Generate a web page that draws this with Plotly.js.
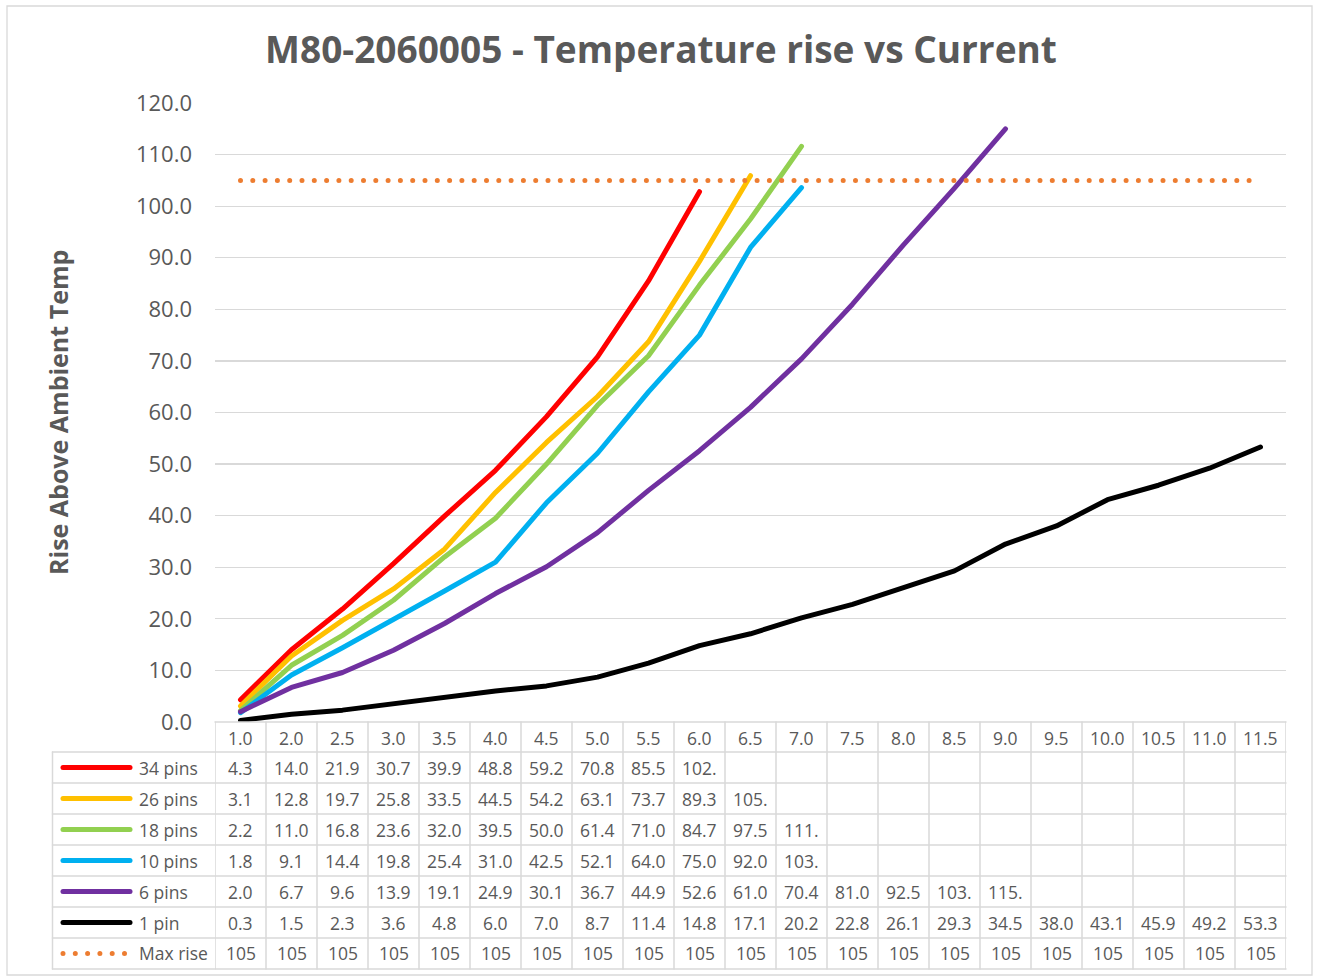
<!DOCTYPE html>
<html><head><meta charset="utf-8">
<script src="https://cdn.plot.ly/plotly-3.0.1.min.js"></script>
<style>
html,body{margin:0;padding:0;background:#fff;}
#chart{width:1318px;height:978px;}
.scatterlayer .js-line{stroke-linecap:round !important;stroke-linejoin:round !important;}
</style></head><body><div id="chart"></div>
<script>
const categories = ['1.0','2.0','2.5','3.0','3.5','4.0','4.5','5.0','5.5','6.0','6.5','7.0','7.5','8.0','8.5','9.0','9.5','10.0','10.5','11.0','11.5'];
const pins34 = [4.3,14.0,21.9,30.7,39.9,48.8,59.2,70.8,85.5,102.8];
const pins26 = [3.1,12.8,19.7,25.8,33.5,44.5,54.2,63.1,73.7,89.3,105.9];
const pins18 = [2.2,11.0,16.8,23.6,32.0,39.5,50.0,61.4,71.0,84.7,97.5,111.6];
const pins10 = [1.8,9.1,14.4,19.8,25.4,31.0,42.5,52.1,64.0,75.0,92.0,103.6];
const pins6 = [2.0,6.7,9.6,13.9,19.1,24.9,30.1,36.7,44.9,52.6,61.0,70.4,81.0,92.5,103.5,115.0];
const pin1 = [0.3,1.5,2.3,3.6,4.8,6.0,7.0,8.7,11.4,14.8,17.1,20.2,22.8,26.1,29.3,34.5,38.0,43.1,45.9,49.2,53.3];
const maxRise = [105,105,105,105,105,105,105,105,105,105,105,105,105,105,105,105,105,105,105,105,105];
const seriesNames = ['34 pins','26 pins','18 pins','10 pins','6 pins','1 pin','Max rise'];
const seriesColors = ['#FF0000','#FFC000','#92D050','#00B0F0','#7030A0','#000000','#ED7D31'];
const yTicks = [0,10,20,30,40,50,60,70,80,90,100,110,120];

const allSeries = [pins34,pins26,pins18,pins10,pins6,pin1,maxRise];
const FONT = 'Open Sans, DejaVu Sans, sans-serif';
const TXT = '#595959';
const GRID = '#d9d9d9';

// layout geometry in pixels
const L = 215, R = 1286, T = 103, B = 722;
const W = 1318, H = 978;
const py = p => (B - p) / (B - T);   // pixel y -> paper y
const px = p => (p - L) / (R - L);   // pixel x -> paper x

const xIdx = categories.map((c,i)=>i);
const traces = allSeries.map((s,k)=>({
  type:'scatter', mode:'lines', name:seriesNames[k],
  x: xIdx.slice(0,s.length), y:s,
  line:{color:seriesColors[k], width:5, dash: k===6?'0px,12.3px':'solid'},
  hoverinfo:'x+y', showlegend:false
}));

const shapes = [];
const annotations = [];
// outer chart border
shapes.push({type:'rect', xref:'paper', yref:'paper', x0:px(7), x1:px(1312), y0:py(6), y1:py(975), line:{color:GRID,width:1.3}, layer:'below'});

const headerTop = 722, rowH = 31, firstRow = 752;
const tableBottom = firstRow + rowH*7;
for (let i=0;i<=categories.length;i++){
  shapes.push({type:'line', xref:'x', yref:'paper', x0:i-0.5, x1:i-0.5, y0:py(headerTop), y1:py(tableBottom), line:{color:GRID,width:1.5}});
}
shapes.push({type:'line', xref:'paper', yref:'paper', x0:px(52.5), x1:px(52.5), y0:py(firstRow), y1:py(tableBottom), line:{color:GRID,width:1.5}});
shapes.push({type:'line', xref:'paper', yref:'paper', x0:0, x1:1, y0:py(headerTop), y1:py(headerTop), line:{color:GRID,width:1.5}});
for (let r=0;r<=7;r++){
  const yy = firstRow + r*rowH;
  shapes.push({type:'line', xref:'paper', yref:'paper', x0:px(52.5), x1:1, y0:py(yy), y1:py(yy), line:{color:GRID,width:1.5}});
}
const tfont = {family:FONT, size:17.5, color:TXT};
categories.forEach((c,i)=>{
  annotations.push({xref:'x', yref:'paper', x:i, y:py(headerTop+rowH/2+0.5), text:c, showarrow:false, font:tfont, xanchor:'center', yanchor:'middle'});
});
allSeries.forEach((s,k)=>{
  const cy = firstRow + rowH*k + rowH/2;
  s.forEach((v,i)=>{
    let t;
    if (k===6) t = String(Math.round(v));
    else { t = v.toFixed(1); if (t.length>4) t = t.slice(0,4); }
    annotations.push({xref:'x', yref:'paper', x:i, y:py(cy), text:t, showarrow:false, font:tfont, xanchor:'center', yanchor:'middle'});
  });
  annotations.push({xref:'paper', yref:'paper', x:px(137), y:py(cy), text:seriesNames[k], showarrow:false, font:tfont, xanchor:'left', yanchor:'middle'});
  shapes.push({type:'line', xref:'paper', yref:'paper', x0:px(63), x1:px(k===6?125:130), y0:py(cy), y1:py(cy),
    line:{color:seriesColors[k], width:5, dash: k===6?'0px,12.3px':'solid'}});
});

annotations.push({xref:'paper', yref:'paper', x:px(58), y:py(413), text:'<b>Rise Above Ambient Temp</b>', textangle:-90, showarrow:false,
  font:{family:FONT, size:25, color:TXT}, xanchor:'center', yanchor:'middle'});

const layout = {
  width:W, height:H,
  margin:{l:L, r:W-R, t:T, b:H-B, pad:0},
  paper_bgcolor:'#fff', plot_bgcolor:'#fff',
  title:{text:'<b>M80-2060005 - Temperature rise vs Current</b>', xref:'container', x:661/W, xanchor:'center', yref:'container', y:1-50/H, yanchor:'middle',
    font:{family:FONT, size:37, color:TXT}},
  xaxis:{range:[-0.5, categories.length-0.5], showticklabels:false, showgrid:false, zeroline:false, showline:false, ticks:'', fixedrange:true},
  yaxis:{range:[0,120], tickvals:yTicks, ticktext:yTicks.map(v=>v.toFixed(1)), showgrid:true, gridcolor:GRID, gridwidth:1.3, zeroline:false, showline:false,
    ticks:'', ticklabelstandoff:22, tickfont:{family:FONT, size:22, color:TXT}},
  shapes:shapes, annotations:annotations, showlegend:false
};
Plotly.newPlot('chart', traces, layout, {displayModeBar:false, staticPlot:true}).then(()=>{
  document.querySelectorAll('.shapelayer path').forEach(p=>{p.style.strokeLinecap='round';});
});
</script></body></html>
